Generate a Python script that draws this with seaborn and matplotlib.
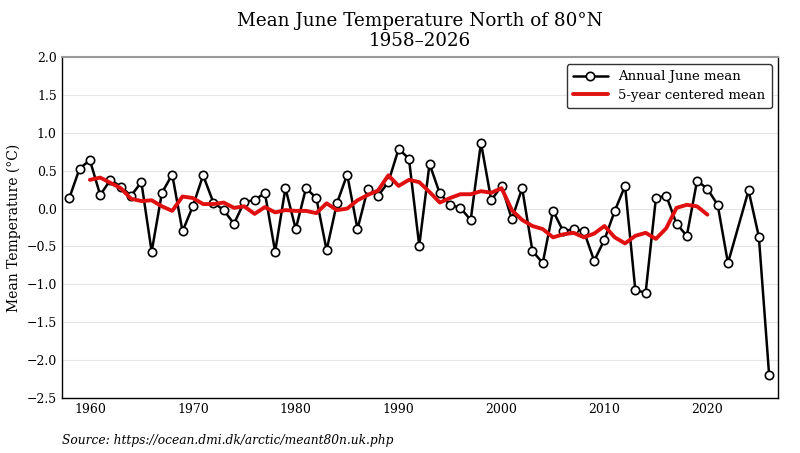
import matplotlib
matplotlib.use("Agg")
import matplotlib.pyplot as plt
import seaborn as sns
import pandas as pd
from matplotlib.ticker import MultipleLocator

# Annual June mean north of 80N (2023 missing in the source)
years = [1958, 1959, 1960, 1961, 1962, 1963, 1964, 1965, 1966, 1967,
         1968, 1969, 1970, 1971, 1972, 1973, 1974, 1975, 1976, 1977,
         1978, 1979, 1980, 1981, 1982, 1983, 1984, 1985, 1986, 1987,
         1988, 1989, 1990, 1991, 1992, 1993, 1994, 1995, 1996, 1997,
         1998, 1999, 2000, 2001, 2002, 2003, 2004, 2005, 2006, 2007,
         2008, 2009, 2010, 2011, 2012, 2013, 2014, 2015, 2016, 2017,
         2018, 2019, 2020, 2021, 2022, 2024, 2025, 2026]
june_mean = [0.14, 0.53, 0.64, 0.18, 0.38, 0.29, 0.17, 0.35, -0.57, 0.21,
             0.45, -0.30, 0.03, 0.44, 0.08, -0.02, -0.20, 0.09, 0.11, 0.21,
             -0.57, 0.27, -0.27, 0.27, 0.14, -0.55, 0.07, 0.45, -0.27, 0.26,
             0.17, 0.35, 0.79, 0.66, -0.49, 0.59, 0.20, 0.05, 0.01, -0.15,
             0.87, 0.11, 0.30, -0.14, 0.27, -0.56, -0.72, -0.03, -0.30, -0.27,
             -0.30, -0.69, -0.41, -0.03, 0.30, -1.08, -1.11, 0.14, 0.17, -0.20,
             -0.36, 0.37, 0.26, 0.05, -0.72, 0.24, -0.37, -2.20]

# 5-year centered mean
smooth_years = list(range(1960, 2021))
smooth_mean = [0.38, 0.41, 0.34, 0.27, 0.13, 0.10, 0.11, 0.03, -0.03, 0.16,
               0.14, 0.06, 0.06, 0.08, 0.01, 0.03, -0.07, 0.02, -0.05, -0.02,
               -0.03, -0.03, -0.06, 0.07, -0.02, 0.00, 0.11, 0.18, 0.24, 0.44,
               0.30, 0.38, 0.35, 0.22, 0.08, 0.14, 0.19, 0.19, 0.23, 0.21,
               0.27, -0.02, -0.15, -0.23, -0.27, -0.38, -0.34, -0.32, -0.38, -0.33,
               -0.23, -0.38, -0.46, -0.36, -0.32, -0.40, -0.26, 0.01, 0.05, 0.03,
               -0.08]

annual = pd.DataFrame({"year": years, "temp": june_mean})
smooth = pd.DataFrame({"year": smooth_years, "temp": smooth_mean})

sns.set_theme(style="white")
plt.rcParams["font.family"] = ["DejaVu Serif"]
plt.rcParams["text.color"] = "black"
plt.rcParams["axes.labelcolor"] = "black"

fig, ax = plt.subplots(figsize=(8, 4.53), dpi=100)
fig.subplots_adjust(left=0.077, right=0.973, top=0.8735, bottom=0.122)

ax.grid(axis="y", color="#e6e6e6", linewidth=0.8, zorder=0)

sns.lineplot(data=annual, x="year", y="temp", ax=ax, color="black",
             linewidth=1.8, marker="o", markersize=6, markerfacecolor="white",
             markeredgecolor="black", markeredgewidth=1.2,
             label="Annual June mean", zorder=3)
sns.lineplot(data=smooth, x="year", y="temp", ax=ax, color="#e01010",
             linewidth=2.8, label="5-year centered mean", zorder=4)

ax.set_xlim(1957.25, 2026.9)
ax.set_ylim(-2.5, 2.0)
ax.xaxis.set_major_locator(MultipleLocator(10))
ax.xaxis.set_minor_locator(MultipleLocator(1))
ax.yaxis.set_major_locator(MultipleLocator(0.5))
ax.yaxis.set_minor_locator(MultipleLocator(0.1))
ax.yaxis.set_major_formatter(plt.FuncFormatter(lambda v, p: f"{v:.1f}".replace("-", "\u2212")))
ax.tick_params(which="both", direction="in", colors="black", labelsize=9)
ax.tick_params(which="major", length=7, width=1)
ax.tick_params(which="minor", length=3.5, width=0.8)

for side in ["left", "right", "bottom"]:
    ax.spines[side].set_color("black")
    ax.spines[side].set_linewidth(1.0)
ax.spines["top"].set_color("#999999")
ax.spines["top"].set_linewidth(1.5)

ax.set_xlabel("")
ax.set_ylabel("Mean Temperature (°C)", fontsize=10, color="black")
ax.set_title("Mean June Temperature North of 80°N\n1958–2026", fontsize=13.2,
             linespacing=1.15, pad=8, color="black")

leg = ax.legend(loc="upper right", fontsize=9.5, frameon=True, fancybox=True,
                edgecolor="#333333", framealpha=1, handlelength=2.6,
                borderpad=0.5, labelspacing=0.4)
leg.get_frame().set_linewidth(1.0)
for t in leg.get_texts():
    t.set_color("black")

fig.text(0.0775, 0.0265, "Source: https://ocean.dmi.dk/arctic/meant80n.uk.php",
         fontsize=8.85, style="italic", ha="left", va="center", color="black")

fig.savefig("out.png", dpi=100)
